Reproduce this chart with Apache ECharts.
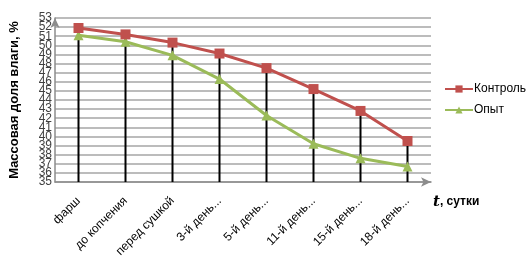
<!DOCTYPE html>
<html>
<head>
<meta charset="utf-8">
<script src="https://cdn.jsdelivr.net/npm/echarts@6/dist/echarts.min.js"></script>
<style>
  html, body { margin: 0; padding: 0; background: #fff; }
  #chart { width: 528px; height: 266px; }
</style>
</head>
<body>
<div id="chart"></div>
<script>
const categories = ['фарш', 'до копчения', 'перед сушкой', '3-й день...', '5-й день...', '11-й день...', '15-й день...', '18-й день...']
const control = [51.9, 51.2, 50.3, 49.1, 47.5, 45.2, 42.8, 39.5]
const experiment = [51.1, 50.4, 48.9, 46.3, 42.3, 39.2, 37.6, 36.7]
const yMin = 35
const yMax = 53

const chart = echarts.init(document.getElementById('chart'))

const font = '"Liberation Sans Narrow", "Liberation Sans", Arial, sans-serif'

// labels are packed tighter than ECharts allows, so odd and even ticks go on two overlaid axes
const labelStyle = { fontFamily: font, fontSize: 12, color: '#404040', margin: 3, showMinLabel: true, showMaxLabel: true }

chart.setOption({
    animation: false,
    grid: { left: 50, right: 97, top: 18, bottom: 84 },
    legend: {
        orient: 'vertical',
        left: 439,
        top: 78,
        itemWidth: 28,
        itemHeight: 9,
        itemGap: 9,
        textStyle: { fontFamily: font, fontSize: 12, color: '#000', padding: [0, 0, 0, -4] },
        data: ['Контроль', 'Опыт']
    },
    xAxis: {
        type: 'category',
        data: categories,
        name: '{t|t}, сутки',
        nameLocation: 'end',
        nameGap: 0,
        nameTextStyle: {
            fontFamily: font, fontSize: 12, fontWeight: 'bold', color: '#000',
            padding: [40, 0, 0, 2], align: 'left',
            rich: { t: { fontFamily: '"DejaVu Serif", serif', fontStyle: 'italic', fontSize: 15, color: '#000' } }
        },
        axisLine: { lineStyle: { color: '#8c8c8c', width: 1.5 }, symbol: ['none', 'arrow'], symbolSize: [7, 10] },
        axisTick: { show: false },
        axisLabel: { rotate: 45, interval: 0, fontFamily: font, fontSize: 12, color: '#000', margin: 17 }
    },
    yAxis: [
        {
            type: 'value',
            min: yMin,
            max: yMax,
            interval: 1,
            name: 'Массовая доля влаги, %',
            nameLocation: 'middle',
            nameGap: 34,
            nameTextStyle: { fontFamily: font, fontSize: 13, fontWeight: 'bold', color: '#000' },
            axisLine: { show: true, lineStyle: { color: '#8c8c8c', width: 1.5 }, symbol: ['none', 'arrow'], symbolSize: [7, 10] },
            axisTick: { show: false },
            axisLabel: Object.assign({}, labelStyle, { formatter: v => (v % 2 === 1 ? String(v) : '') }),
            splitLine: { lineStyle: { color: '#a6a6a6', width: 1.5 } }
        },
        {
            type: 'value',
            position: 'left',
            min: yMin,
            max: yMax,
            interval: 1,
            axisLine: { show: false },
            axisTick: { show: false },
            splitLine: { show: false },
            axisLabel: Object.assign({}, labelStyle, { formatter: v => (v % 2 === 0 ? String(v) : '') })
        }
    ],
    series: [
        {
            name: 'drop',
            type: 'bar',
            data: control,
            barWidth: 2,
            silent: true,
            z: 1,
            itemStyle: { color: '#000' }
        },
        {
            name: 'Контроль',
            type: 'line',
            data: control,
            symbol: 'rect',
            symbolSize: 10,
            z: 3,
            lineStyle: { color: '#c0504d', width: 3 },
            itemStyle: { color: '#c0504d' }
        },
        {
            name: 'Опыт',
            type: 'line',
            data: experiment,
            symbol: 'triangle',
            symbolSize: 10,
            z: 2,
            lineStyle: { color: '#9bbb59', width: 3 },
            itemStyle: { color: '#9bbb59' }
        }
    ]
})
</script>
</body>
</html>
